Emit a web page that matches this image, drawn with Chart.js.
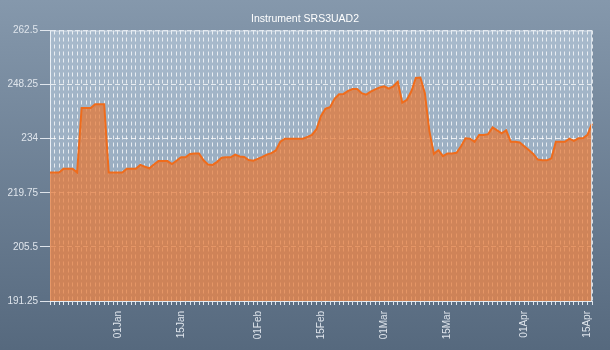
<!DOCTYPE html>
<html>
<head>
<meta charset="utf-8">
<script src="https://cdn.jsdelivr.net/npm/chart.js@4.4.1/dist/chart.umd.min.js"></script>
<style>
  html, body { margin: 0; padding: 0; background: #5b6f85; }
</style>
</head>
<body>
<canvas id="grafico" width="610" height="350"></canvas>
<script>
// daily closes from 17 Dec to 16 Apr
const primeiroDia = new Date(2022, 11, 17);
const meses = ['Jan', 'Feb', 'Mar', 'Apr', 'May', 'Jun', 'Jul', 'Aug', 'Sep', 'Oct', 'Nov', 'Dec'];
const fechamentos = [
  225.1, 225.1, 225.1, 226.1, 226.1, 226.1, 225.1, 242.1, 242.1, 242.1,
  243.1, 243.1, 243.1, 225.1, 225.1, 225.1, 225.1, 226.1, 226.1, 226.1,
  227.1, 226.6, 226.2, 227.2, 228.1, 228.1, 228.1, 227.3, 228.2, 229.1,
  229.1, 230.0, 230.1, 230.1, 228.3, 227.2, 227.1, 227.9, 229.0, 229.1,
  229.1, 229.8, 229.3, 229.2, 228.4, 228.2, 228.7, 229.2, 229.8, 230.2,
  230.9, 233.2, 234.0, 234.0, 234.0, 234.0, 234.0, 234.5, 235.0, 236.5,
  240.0, 241.9, 242.3, 244.5, 245.7, 245.8, 246.6, 247.1, 247.1, 246.0,
  245.6, 246.4, 247.0, 247.5, 247.8, 247.2, 247.8, 249.0, 243.5, 244.2,
  246.5, 250.0, 250.1, 246.0, 236.0, 230.0, 231.0, 229.4, 230.1, 230.1,
  230.3, 232.0, 234.1, 234.0, 233.2, 235.0, 235.0, 235.2, 237.0, 236.2,
  235.4, 236.2, 233.2, 233.2, 233.0, 232.0, 231.0, 230.0, 228.5, 228.3,
  228.3, 228.8, 233.2, 233.2, 233.2, 234.0, 233.4, 234.1, 234.1, 235.0,
  238.0
];
const rotulosVisiveis = ['01Jan', '15Jan', '01Feb', '15Feb', '01Mar', '15Mar', '01Apr', '15Apr'];
const ticksY = [191.25, 205.5, 219.75, 234, 248.25, 262.5];

const dias = fechamentos.map((_, i) => {
  const d = new Date(primeiroDia);
  d.setDate(d.getDate() + i);
  return String(d.getDate()).padStart(2, '0') + meses[d.getMonth()];
});

// fundo em degrade + area do grafico mais clara + moldura
const fundo = {
  id: 'fundo',
  beforeDraw(chart) {
    const { ctx, chartArea: a, width, height } = chart;
    ctx.save();
    const g = ctx.createLinearGradient(0, 0, 0, height);
    g.addColorStop(0, '#8598ac');
    g.addColorStop(1, '#56697e');
    ctx.fillStyle = g;
    ctx.fillRect(0, 0, width, height);
    const g2 = ctx.createLinearGradient(0, a.top, 0, a.bottom);
    g2.addColorStop(0, '#a8bacc');
    g2.addColorStop(1, '#8ea3b8');
    ctx.fillStyle = g2;
    ctx.fillRect(a.left, a.top, a.right - a.left, a.bottom - a.top);
    ctx.restore();
  },
  afterDatasetsDraw(chart) {
    const { ctx, chartArea: a } = chart;
    ctx.save();
    ctx.strokeStyle = 'rgba(225,232,240,0.85)';
    ctx.lineWidth = 1;
    ctx.beginPath();
    ctx.moveTo(a.left, a.top + 0.5);
    ctx.lineTo(a.right - 0.5, a.top + 0.5);
    ctx.lineTo(a.right - 0.5, a.bottom);
    ctx.stroke();
    ctx.restore();
  }
};

const fonte = { family: 'Liberation Sans', size: 10 };
const corTexto = '#dfe5ec';

new Chart(document.getElementById('grafico'), {
  type: 'line',
  data: {
    labels: dias,
    datasets: [{
      data: fechamentos,
      borderColor: '#ef6c1c',
      borderWidth: 2,
      backgroundColor: 'rgba(230,118,50,0.72)',
      fill: 'start',
      pointRadius: 0,
      tension: 0
    }]
  },
  options: {
    responsive: false,
    animation: false,
    devicePixelRatio: 1,
    layout: { padding: 0 },
    plugins: {
      legend: { display: false },
      tooltip: { enabled: false },
      title: {
        display: true,
        text: 'Instrument SRS3UAD2',
        color: '#ffffff',
        font: { family: 'Liberation Sans', size: 10.5, weight: 'normal' },
        padding: { top: 12.5, bottom: 5.4 }
      }
    },
    scales: {
      x: {
        afterFit: s => { s.height = 49; },
        grid: {
          color: 'rgba(255,255,255,0.75)',
          tickColor: 'rgba(235,240,245,0.9)',
          tickLength: 4
        },
        border: { color: 'rgba(235,240,245,0.9)', dash: [4, 3] },
        ticks: {
          autoSkip: false,
          minRotation: 90,
          maxRotation: 90,
          padding: 6,
          color: corTexto,
          font: fonte,
          callback: function (v) {
            const r = this.getLabelForValue(v);
            return rotulosVisiveis.includes(r) ? r : '';
          }
        }
      },
      y: {
        min: 191.25,
        max: 262.5,
        afterFit: s => { s.width = 50; },
        afterBuildTicks: s => { s.ticks = ticksY.map(v => ({ value: v })); },
        grid: {
          color: 'rgba(255,255,255,0.75)',
          tickColor: 'rgba(235,240,245,0.9)',
          tickLength: 10
        },
        border: { color: 'rgba(235,240,245,0.9)', dash: [5, 3] },
        ticks: {
          padding: 2,
          color: corTexto,
          font: fonte,
          callback: v => String(v)
        }
      },
      // margem direita vazia
      margem: {
        type: 'linear',
        position: 'right',
        afterFit: s => { s.width = 14.5; },
        grid: { display: false },
        border: { display: false },
        ticks: { display: false }
      }
    }
  },
  plugins: [fundo]
});
</script>
</body>
</html>
